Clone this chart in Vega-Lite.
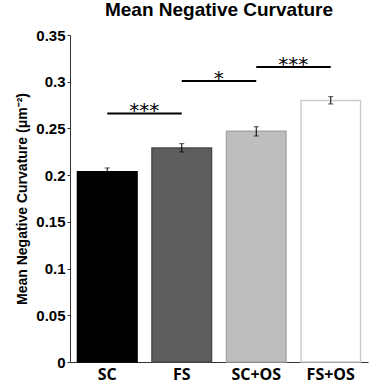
{
  "$schema": "https://vega.github.io/schema/vega-lite/v6.json",
  "width": 298,
  "height": 327,
  "autosize": {"type": "none"},
  "padding": {"left": 70, "top": 35, "right": 1, "bottom": 25},
  "background": "white",
  "title": {"text": "Mean Negative Curvature", "font": "Liberation Sans", "fontSize": 19, "fontWeight": "bold", "color": "black", "anchor": "middle", "offset": 8},
  "config": {"view": {"stroke": null}},
  "datasets": {
    "bars": [
      {"group": "SC", "mean": 0.2035, "lo": 0.1995, "hi": 0.2077},
      {"group": "FS", "mean": 0.229, "lo": 0.2248, "hi": 0.2337},
      {"group": "SC+OS", "mean": 0.247, "lo": 0.2419, "hi": 0.2518},
      {"group": "FS+OS", "mean": 0.280, "lo": 0.2762, "hi": 0.284}
    ],
    "sig": [
      {"from": "SC", "to": "FS", "y": 0.266, "label": "***"},
      {"from": "FS", "to": "SC+OS", "y": 0.3008, "label": "*"},
      {"from": "SC+OS", "to": "FS+OS", "y": 0.3157, "label": "***"}
    ]
  },
  "encoding": {
    "x": {
      "field": "group", "type": "nominal", "sort": ["SC", "FS", "SC+OS", "FS+OS"],
      "scale": {"domain": ["SC", "FS", "SC+OS", "FS+OS"], "paddingInner": 0.2, "paddingOuter": 0.1},
      "axis": {"title": null, "labelAngle": 0, "labelFont": "Open Sans", "labelFontSize": 16, "labelFontWeight": "bold", "labelColor": "black", "ticks": false, "labelPadding": 4, "domainColor": "#333", "domainWidth": 1}
    }
  },
  "layer": [
    {
      "data": {"name": "bars"},
      "mark": {"type": "bar", "strokeWidth": 1.5},
      "encoding": {
        "y": {
          "field": "mean", "type": "quantitative",
          "scale": {"domain": [0, 0.35], "nice": false},
          "axis": {"title": "Mean Negative Curvature (μm⁻²)", "titleFont": "Liberation Sans", "titleFontSize": 14, "titleFontWeight": "bold", "titleColor": "black", "titlePadding": 6, "values": [0, 0.05, 0.1, 0.15, 0.2, 0.25, 0.3, 0.35], "format": "~g", "labelFont": "Liberation Sans", "labelFontSize": 15, "labelFontWeight": "bold", "labelColor": "black", "grid": false, "tickSize": 3, "tickColor": "#333", "labelPadding": 2, "domainColor": "#333", "domainWidth": 1}
        },
        "fill": {"field": "group", "type": "nominal", "scale": {"domain": ["SC", "FS", "SC+OS", "FS+OS"], "range": ["#000000", "#5e5e5e", "#bebebe", "#ffffff"]}, "legend": null},
        "stroke": {"field": "group", "type": "nominal", "scale": {"domain": ["SC", "FS", "SC+OS", "FS+OS"], "range": ["#000000", "#4a4a4a", "#a8a8a8", "#cccccc"]}, "legend": null}
      }
    },
    {
      "data": {"name": "bars"},
      "mark": {"type": "rule", "color": "black", "strokeWidth": 1},
      "encoding": {"y": {"field": "lo", "type": "quantitative"}, "y2": {"field": "hi"}}
    },
    {
      "data": {"name": "bars"},
      "mark": {"type": "tick", "color": "black", "size": 5, "thickness": 1, "orient": "horizontal"},
      "encoding": {"y": {"field": "lo", "type": "quantitative"}}
    },
    {
      "data": {"name": "bars"},
      "mark": {"type": "tick", "color": "black", "size": 5, "thickness": 1, "orient": "horizontal"},
      "encoding": {"y": {"field": "hi", "type": "quantitative"}}
    },
    {
      "data": {"name": "sig"},
      "mark": {"type": "rule", "color": "black", "strokeWidth": 2},
      "encoding": {"x": {"field": "from", "type": "nominal"}, "x2": {"field": "to"}, "y": {"field": "y", "type": "quantitative"}}
    },
    {
      "data": {"name": "sig"},
      "mark": {"type": "text", "font": "DejaVu Sans", "fontSize": 20, "color": "black", "dx": 37, "dy": 4, "baseline": "alphabetic", "align": "center"},
      "encoding": {"x": {"field": "from", "type": "nominal"}, "y": {"field": "y", "type": "quantitative"}, "text": {"field": "label"}}
    }
  ]
}
